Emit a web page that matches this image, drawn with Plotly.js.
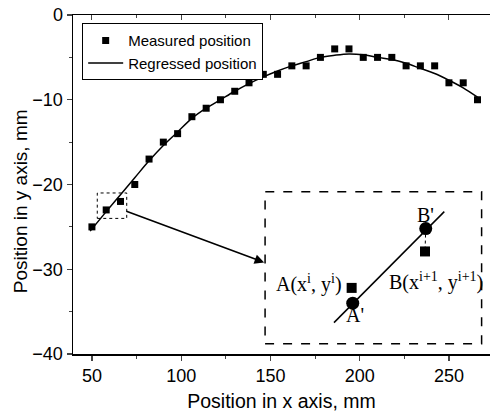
<!DOCTYPE html>
<html><head><meta charset="utf-8">
<script src="https://cdn.plot.ly/plotly-3.0.1.min.js"></script>
<style>html,body{margin:0;padding:0;background:#fff}</style>
</head><body><div id="chart" style="width:490px;height:415px"></div>
<script>
// Measured positions
const measX = [50,58,66,74,82,90,98,106,114,122,130,138,146,154,162,170,178,186,194,202,210,218,226,234,242,250,258,266];
const measY = [-25,-23,-22,-20,-17,-15,-14,-12,-11,-10,-9,-8,-7,-7,-6,-6,-5,-4,-4,-5,-5,-5,-6,-6,-6,-8,-8,-10];
// Regressed curve
const regX = [49,58,66,74,82,90,98,106,114,122,130,138,146,154,162,170,178,186,194,202,210,218,226,234,242,250,258,266];
const regY = [-25.5,-23.2,-21.2,-19.2,-17.2,-15.4,-13.8,-12.2,-11.0,-10.0,-9.0,-8.1,-7.3,-6.6,-6.0,-5.5,-5.0,-4.75,-4.6,-4.7,-5.0,-5.25,-5.7,-6.3,-6.9,-7.7,-8.6,-9.7];
// Inset schematic (A, B measured; A', B' regressed)
const insetLineX = [185.6,247.4];
const insetLineY = [-36.3,-23.2];
const insetMeasX = [195.5,236.6];
const insetMeasY = [-32.2,-27.9];
const insetRegX = [196.1,237];
const insetRegY = [-34.0,-25.2];
const insetLabels = ['A(x<sup>i</sup>, y<sup>i</sup>)','B(x<sup>i+1</sup>, y<sup>i+1</sup>)',"A'", "B'"];
const insetLabelX = [171.6,243,197.3,236.6];
const insetLabelY = [-31.7,-31.5,-35.4,-23.6];
// Zoom frame and inset frame
const zoomBoxX = [53,69.5];
const zoomBoxY = [-24,-21];
const insetBoxX = [147,268.3];
const insetBoxY = [-38.8,-20.85];
const arrowFrom = [68.5,-23.1];
const arrowTo = [146.5,-29.2];

const sans = 'Liberation Sans, Arial, sans-serif';
const serif = 'Liberation Serif, Times New Roman, serif';

const traces = [
  {x: measX, y: measY, mode:'markers', type:'scatter', name:'Measured position',
   marker:{symbol:'square', size:7, color:'#000'}},
  {x: regX, y: regY, mode:'lines', type:'scatter', name:'Regressed position',
   line:{color:'#000', width:1.5, shape:'spline'}},
  {x: insetLineX, y: insetLineY, mode:'lines', showlegend:false, line:{color:'#000', width:1.5}},
  {x: [insetRegX[1], insetMeasX[1]], y:[insetRegY[1], insetMeasY[1]], mode:'lines', showlegend:false,
   line:{color:'#000', width:1, dash:'dot'}},
  {x: insetMeasX, y: insetMeasY, mode:'markers', showlegend:false, marker:{symbol:'square', size:10, color:'#000'}},
  {x: insetRegX, y: insetRegY, mode:'markers', showlegend:false, marker:{symbol:'circle', size:13, color:'#000'}},
  {x: [], y: [], xaxis:'x2', showlegend:false}
];

const annotations = insetLabels.map((t,i)=>({x: insetLabelX[i], y: insetLabelY[i], xref:'x', yref:'y', text:t,
  showarrow:false, font:{family:serif, size:20, color:'#000'}}));
annotations.push({x: arrowTo[0], y: arrowTo[1], ax: arrowFrom[0], ay: arrowFrom[1], xref:'x', yref:'y',
  axref:'x', ayref:'y', showarrow:true, arrowhead:2, arrowsize:1.2, arrowwidth:1.6, arrowcolor:'#000', text:''});
annotations.push({x:-0.127, y:0.451, xref:'paper', yref:'paper', xanchor:'center', yanchor:'middle',
  text:'Position in y axis, mm', textangle:-90,
  showarrow:false, font:{family:sans, size:19, color:'#000'}});

const shapes = [
  {type:'rect', xref:'x', yref:'y', x0: zoomBoxX[0], x1: zoomBoxX[1], y0: zoomBoxY[0], y1: zoomBoxY[1],
   line:{color:'#000', width:1, dash:'dot'}},
  {type:'rect', xref:'x', yref:'y', x0: insetBoxX[0], x1: insetBoxX[1], y0: insetBoxY[0], y1: insetBoxY[1],
   line:{color:'#000', width:1.5, dash:'dash'}}
];

const layout = {
  width:490, height:415,
  margin:{l:73, r:0, t:15, b:61},
  paper_bgcolor:'#fff', plot_bgcolor:'#fff',
  font:{family:sans, color:'#000', size:16},
  showlegend:true,
  legend:{x:0.022, y:0.976, xanchor:'left', yanchor:'top', bordercolor:'#000', borderwidth:1,
    font:{family:sans, size:15, color:'#000'}, bgcolor:'#fff', tracegroupgap:0, itemwidth:35},
  xaxis:{range:[39.4,273], tickvals:[50,100,150,200,250], ticks:'outside', ticklen:5, tickwidth:1.2,
    showgrid:false, zeroline:false, showline:true, linecolor:'#000', linewidth:1.5, mirror:true,
    minor:{dtick:25, tick0:0, ticks:'outside', ticklen:3, tickwidth:1},
    tickfont:{family:sans, size:18}, title:{text:'Position in x axis, mm', font:{family:sans, size:19.5}, standoff:9}},
  xaxis2:{overlaying:'x', matches:'x', side:'top', showticklabels:false, tickvals:[50,100,150,200,250],
    ticks:'inside', ticklen:5, showgrid:false, zeroline:false, showline:false,
    minor:{dtick:25, tick0:0, ticks:'inside', ticklen:3}},
  yaxis:{range:[-40,0], tickvals:[-40,-30,-20,-10,0], ticks:'outside', ticklen:5, tickwidth:1.2,
    showgrid:false, zeroline:false, showline:true, linecolor:'#000', linewidth:1.5, mirror:true,
    minor:{dtick:5, ticks:'outside', ticklen:3, tickwidth:1},
    tickfont:{family:sans, size:18}},
  annotations: annotations,
  shapes: shapes
};
Plotly.newPlot('chart', traces, layout, {displayModeBar:false, staticPlot:true});
</script></body></html>
